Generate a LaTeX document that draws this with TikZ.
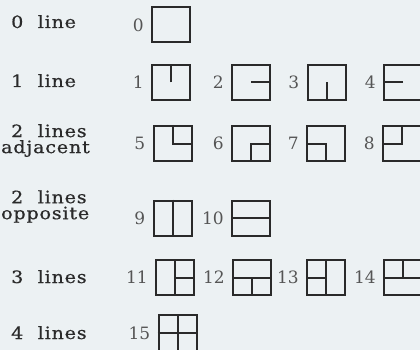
\documentclass[tikz,border=0pt]{standalone}
\usepackage{fontspec}
\setmainfont{DejaVu Serif}[FakeStretch=1.12,LetterSpace=5,FakeBold=0.7]
\newfontfamily\numfont{DejaVu Serif}
\usepackage{tikz}
\usetikzlibrary{positioning}
\definecolor{PaperTint}{HTML}{ECF1F3}
\definecolor{InkGrey}{HTML}{2A2A2A}
\definecolor{NumGrey}{HTML}{555555}
\tikzset{
  cell/.style={draw=InkGrey,line width=2pt,minimum width=38pt,minimum height=35pt,inner sep=0pt},
  wall/.style={draw=InkGrey,line width=2pt},
  num/.style={text=NumGrey,font=\numfont\fontsize{17}{17}\selectfont,inner sep=1pt},
  caption/.style={text=InkGrey,font=\fontsize{17}{16}\selectfont,align=left,inner sep=0pt}
}

\begin{document}
\begin{tikzpicture}[x=1pt,y=-1pt]
  \fill[PaperTint] (0,0) rectangle (420,350);
  \useasboundingbox (0,0) rectangle (420,350);
  % row captions
  \node[caption,anchor=base west] (c0) at (11,28) {0\hspace{.85em}line};
  \node[caption,anchor=base west] (c1) at (11,87) {1\hspace{.85em}line};
  \node[caption,anchor=west] (c2) at (1,140.5) {\hspace{10pt}2\hspace{.85em}lines\\adjacent};
  \node[caption,anchor=west] (c3) at (1,206.5) {\hspace{10pt}2\hspace{.85em}lines\\opposite};
  \node[caption,anchor=base west] (c4) at (11,283) {3\hspace{.85em}lines};
  \node[caption,anchor=base west] (c5) at (11,339) {4\hspace{.85em}lines};

  % cells
  \node[cell] (b0) at (171,25) {};
  \node[cell] (b1) at (171,82.5) {};
  \node[cell] (b2) at (251,82.5) {};
  \node[cell] (b3) at (326.5,82.5) {};
  \node[cell] (b4) at (403,82.5) {};
  \node[cell] (b5) at (172.5,143.5) {};
  \node[cell] (b6) at (251,143.5) {};
  \node[cell] (b7) at (326,143.5) {};
  \node[cell] (b8) at (402,143.5) {};
  \node[cell] (b9) at (172.5,218) {};
  \node[cell] (b10) at (251,218) {};
  \node[cell] (b11) at (175,277.5) {};
  \node[cell] (b12) at (252,277.5) {};
  \node[cell] (b13) at (326,277.5) {};
  \node[cell] (b14) at (403,277.5) {};
  \node[cell,minimum height=36pt] (b15) at (177.5,333) {};

  % numbers
  \node[num,left=6pt of b0] (n0) {0};
  \node[num,left=6pt of b1] (n1) {1};
  \node[num,left=6pt of b2] (n2) {2};
  \node[num,left=6pt of b3] (n3) {3};
  \node[num,left=6pt of b4] (n4) {4};
  \node[num,left=6pt of b5] (n5) {5};
  \node[num,left=6pt of b6] (n6) {6};
  \node[num,left=6pt of b7] (n7) {7};
  \node[num,left=6pt of b8] (n8) {8};
  \node[num,left=6pt of b9] (n9) {9};
  \node[num,left=6pt of b10] (n10) {10};
  \node[num,left=6pt of b11] (n11) {11};
  \node[num,left=6pt of b12] (n12) {12};
  \node[num,left=6pt of b13] (n13) {13};
  \node[num,left=6pt of b14] (n14) {14};
  \node[num,left=6pt of b15] (n15) {15};

  % inner walls
  \draw[wall] (b1.center) -- (b1.north);
  \draw[wall] (b2.center) -- (b2.east);
  \draw[wall] (b3.center) -- (b3.south);
  \draw[wall] (b4.center) -- (b4.west);
  \draw[wall] (b5.north) -- (b5.center) -- (b5.east);
  \draw[wall] (b6.east) -- (b6.center) -- (b6.south);
  \draw[wall] (b7.west) -- (b7.center) -- (b7.south);
  \draw[wall] (b8.west) -- (b8.center) -- (b8.north);
  \draw[wall] (b9.north) -- (b9.south);
  \draw[wall] (b10.west) -- (b10.east);
  \draw[wall] (b11.north) -- (b11.south) (b11.center) -- (b11.east);
  \draw[wall] (b12.west) -- (b12.east) (b12.center) -- (b12.south);
  \draw[wall] (b13.north) -- (b13.south) (b13.center) -- (b13.west);
  \draw[wall] (b14.west) -- (b14.east) (b14.center) -- (b14.north);
  \draw[wall] (b15.north) -- (b15.south) (b15.west) -- (b15.east);
\end{tikzpicture}
\end{document}
